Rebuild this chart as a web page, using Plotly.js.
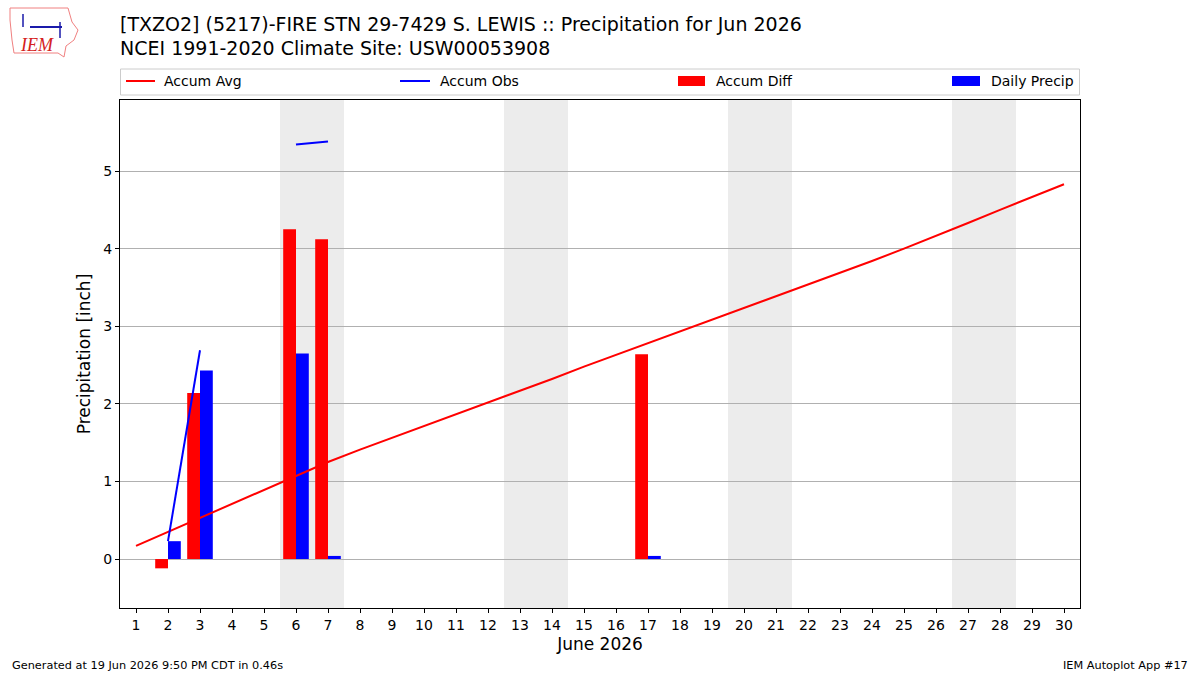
<!DOCTYPE html>
<html>
<head>
<meta charset="utf-8">
<script src="https://cdn.plot.ly/plotly-3.0.1.min.js"></script>
<style>html,body{margin:0;padding:0;background:#fff;}#chart{width:1200px;height:675px;}</style>
</head>
<body>
<div id="chart"></div>
<script>
const days = [1,2,3,4,5,6,7,8,9,10,11,12,13,14,15,16,17,18,19,20,21,22,23,24,25,26,27,28,29,30];
const accumAvg = [0.17,0.35,0.53,0.71,0.88,1.06,1.25,1.41,1.56,1.71,1.86,2.02,2.17,2.32,2.48,2.63,2.78,2.93,3.08,3.23,3.38,3.53,3.69,3.84,4.00,4.16,4.33,4.50,4.66,4.83];
const accumObs = [null,0.23,2.69,null,null,5.34,5.38,null,null,null,null,null,null,null,null,null,null,null,null,null,null,null,null,null,null,null,null,null,null,null];
const accumDiff = [null,-0.12,2.14,null,null,4.25,4.12,null,null,null,null,null,null,null,null,null,2.64,null,null,null,null,null,null,null,null,null,null,null,null,null];
const dailyPrecip = [null,0.23,2.43,null,null,2.65,0.04,null,null,null,null,null,null,null,null,null,0.04,null,null,null,null,null,null,null,null,null,null,null,null,null];
const weekendStarts = [6,13,20,27];
const xTickLabels = days.map(String);
const titleLines = ["[TXZO2] (5217)-FIRE STN 29-7429 S. LEWIS :: Precipitation for Jun 2026", "NCEI 1991-2020 Climate Site: USW00053908"];
const legendNames = ["Accum Avg", "Accum Obs", "Accum Diff", "Daily Precip"];

const FONT = "DejaVu Sans, sans-serif";
const L = 120, R = 1080, T = 100, B = 608;
const xp = px => (px - L) / (R - L);
const yp = py => (B - py) / (B - T);

const traces = [
  {x: days, y: accumAvg, type: 'scatter', mode: 'lines', name: legendNames[0],
   line: {color: '#ff0000', width: 2}, hoverinfo: 'skip'},
  {x: days, y: accumDiff, type: 'bar', name: legendNames[2], offset: -0.4, width: 0.4,
   marker: {color: '#ff0000', line: {width: 0}}},
  {x: days, y: dailyPrecip, type: 'bar', name: legendNames[3], offset: 0, width: 0.4,
   marker: {color: '#0000ff', line: {width: 0}}},
  {x: days, y: accumObs, type: 'scatter', mode: 'lines', name: legendNames[1],
   line: {color: '#0000ff', width: 2}, connectgaps: false}
];

const shapes = weekendStarts.map(d => ({
  type: 'rect', xref: 'x', yref: 'paper', x0: d - 0.5, x1: d + 1.5, y0: 0, y1: 1,
  fillcolor: '#ececec', line: {width: 0}, layer: 'below'
}));

// legend box
shapes.push({type: 'rect', xref: 'paper', yref: 'paper', x0: xp(120.5), x1: xp(1079.5), y0: yp(95), y1: yp(69),
  line: {color: '#cccccc', width: 1}, fillcolor: 'rgba(255,255,255,0.8)', layer: 'above'});
shapes.push({type: 'line', xref: 'paper', yref: 'paper', x0: xp(126), x1: xp(155), y0: yp(81), y1: yp(81),
  line: {color: '#ff0000', width: 2}});
shapes.push({type: 'line', xref: 'paper', yref: 'paper', x0: xp(400), x1: xp(430), y0: yp(81), y1: yp(81),
  line: {color: '#0000ff', width: 2}});
shapes.push({type: 'rect', xref: 'paper', yref: 'paper', x0: xp(678), x1: xp(705), y0: yp(86), y1: yp(76),
  fillcolor: '#ff0000', line: {width: 0}});
shapes.push({type: 'rect', xref: 'paper', yref: 'paper', x0: xp(952), x1: xp(980), y0: yp(86), y1: yp(76),
  fillcolor: '#0000ff', line: {width: 0}});

const legendTextX = [162, 438, 714, 989];
const annotations = legendNames.map((n, i) => ({
  text: n, xref: 'paper', yref: 'paper', x: xp(legendTextX[i]), y: yp(81),
  xanchor: 'left', yanchor: 'middle', showarrow: false,
  font: {family: FONT, size: 14, color: '#000'}
}));

annotations.push({text: titleLines[0], xref: 'paper', yref: 'paper', x: xp(118), y: yp(24),
  xanchor: 'left', yanchor: 'middle', showarrow: false, font: {family: FONT, size: 19, color: '#000'}});
annotations.push({text: titleLines[1], xref: 'paper', yref: 'paper', x: xp(118), y: yp(48),
  xanchor: 'left', yanchor: 'middle', showarrow: false, font: {family: FONT, size: 19, color: '#000'}});

annotations.push({text: 'Generated at 19 Jun 2026 9:50 PM CDT in 0.46s', xref: 'paper', yref: 'paper',
  x: xp(10), y: yp(665), xanchor: 'left', yanchor: 'middle', showarrow: false,
  font: {family: FONT, size: 11.3, color: '#000'}});
annotations.push({text: 'IEM Autoplot App #17', xref: 'paper', yref: 'paper',
  x: xp(1190), y: yp(665), xanchor: 'right', yanchor: 'middle', showarrow: false,
  font: {family: FONT, size: 11.3, color: '#000'}});

// logo approximation
annotations.push({text: '<i>IEM</i>', xref: 'paper', yref: 'paper', x: xp(37), y: yp(45),
  xanchor: 'center', yanchor: 'middle', showarrow: false,
  font: {family: 'Liberation Serif, serif', size: 18, color: '#d42020'}});
shapes.push({type: 'path', xref: 'paper', yref: 'paper',
  path: 'M ' + xp(10) + ' ' + yp(8) + ' L ' + xp(68) + ' ' + yp(8) + ' L ' + xp(72) + ' ' + yp(22) +
        ' L ' + xp(78) + ' ' + yp(30) + ' L ' + xp(74) + ' ' + yp(40) + ' L ' + xp(66) + ' ' + yp(46) +
        ' L ' + xp(64) + ' ' + yp(57) + ' L ' + xp(58) + ' ' + yp(53) + ' L ' + xp(14) + ' ' + yp(53) +
        ' L ' + xp(12) + ' ' + yp(40) + ' L ' + xp(10) + ' ' + yp(20) + ' Z',
  line: {color: '#f08080', width: 1}, fillcolor: 'rgba(0,0,0,0)'});
shapes.push({type: 'line', xref: 'paper', yref: 'paper', x0: xp(30), x1: xp(62), y0: yp(27), y1: yp(27),
  line: {color: '#1a1aaa', width: 2}});
shapes.push({type: 'line', xref: 'paper', yref: 'paper', x0: xp(60), x1: xp(60), y0: yp(22), y1: yp(38),
  line: {color: '#1a1aaa', width: 1.5}});
shapes.push({type: 'line', xref: 'paper', yref: 'paper', x0: xp(23), x1: xp(23), y0: yp(14), y1: yp(27),
  line: {color: '#1a1aaa', width: 1.5}});

const layout = {
  width: 1200, height: 675,
  margin: {l: L, r: 1200 - R, t: T, b: 675 - B, pad: 0},
  paper_bgcolor: '#ffffff', plot_bgcolor: '#ffffff',
  showlegend: false,
  barmode: 'overlay',
  font: {family: FONT, size: 14, color: '#000'},
  xaxis: {
    range: [0.5, 30.5], tickmode: 'array', tickvals: days, ticktext: xTickLabels,
    showgrid: false, zeroline: false, showline: true, linecolor: '#000', linewidth: 1, mirror: true,
    ticks: 'outside', ticklen: 4, tickcolor: '#000', tickwidth: 1,
    tickfont: {family: FONT, size: 14, color: '#000'},
    title: {text: 'June 2026', font: {family: FONT, size: 17, color: '#000'}, standoff: 6},
    automargin: false
  },
  yaxis: {
    range: [-0.631, 5.915], tickmode: 'array', tickvals: [0,1,2,3,4,5], ticktext: ['0','1','2','3','4','5'],
    showgrid: true, gridcolor: '#b0b0b0', gridwidth: 1, zeroline: false,
    showline: true, linecolor: '#000', linewidth: 1, mirror: true,
    ticks: 'outside', ticklen: 4, tickcolor: '#000', tickwidth: 1,
    tickfont: {family: FONT, size: 14, color: '#000'},
    title: {text: 'Precipitation [inch]', font: {family: FONT, size: 17, color: '#000'}, standoff: 8},
    automargin: false
  },
  shapes: shapes,
  annotations: annotations
};

Plotly.newPlot('chart', traces, layout, {staticPlot: true, displayModeBar: false});
</script>
</body>
</html>
